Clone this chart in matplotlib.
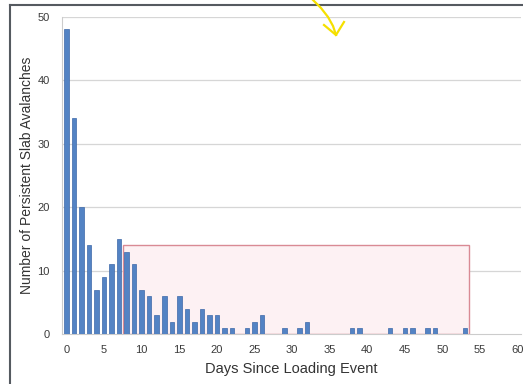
import matplotlib
matplotlib.use("Agg")
import matplotlib.pyplot as plt
from matplotlib.patches import Rectangle
from matplotlib.lines import Line2D

plt.rcParams["font.family"] = ["Liberation Sans", "DejaVu Sans"]

days = list(range(0, 61))
count_by_day = {0: 48, 1: 34, 2: 20, 3: 14, 4: 7, 5: 9, 6: 11, 7: 15, 8: 13, 9: 11,
                10: 7, 11: 6, 12: 3, 13: 6, 14: 2, 15: 6, 16: 4, 17: 2, 18: 4, 19: 3,
                20: 3, 21: 1, 22: 1, 24: 1, 25: 2, 26: 3, 29: 1, 31: 1, 32: 2,
                38: 1, 39: 1, 43: 1, 45: 1, 46: 1, 48: 1, 49: 1, 53: 1}
counts = [count_by_day.get(d, 0) for d in days]
x_ticks = list(range(0, 61, 5))
y_ticks = [0, 10, 20, 30, 40, 50]
window_start, window_end, window_height = 7.5, 53.6, 14

W, H = 523, 384
fig = plt.figure(figsize=(W / 100, H / 100), dpi=100)
fig.patch.set_facecolor("white")

ax = fig.add_axes([62 / W, (H - 334.3) / H, 459 / W, 317.6 / H])
ax.set_xlim(-0.6, 60.45)
ax.set_ylim(0, 50)

ax.add_patch(Rectangle((window_start, 0), window_end - window_start, window_height,
                       facecolor="#fdf1f3", edgecolor="#d98a94", linewidth=1.0, zorder=1))
for yv in y_ticks[1:]:
    ax.axhline(yv, color="#d6d6d6", linewidth=0.9, zorder=0.5)

ax.bar(days, counts, width=0.6, color="#5383c4", edgecolor="#3d68a8", linewidth=0.5, zorder=3)

ax.set_xticks(x_ticks)
ax.set_yticks(y_ticks)
ax.tick_params(axis="both", length=0, labelsize=8, colors="#3a3a3a", pad=8)
ax.tick_params(axis="y", pad=9)
for s in ["top", "right"]:
    ax.spines[s].set_visible(False)
ax.spines["left"].set_color("#cccccc")
ax.spines["bottom"].set_color("#cccccc")
ax.set_xlabel("Days Since Loading Event", fontsize=10.5, color="#333333", labelpad=5)
ax.set_ylabel("Number of Persistent Slab Avalanches", fontsize=10, color="#333333", labelpad=2)

def px(x, y):
    return (x / W, 1 - y / H)

# frame of the photographed chart
fig.add_artist(Line2D(*zip(px(10, 5), px(523, 5)), color="#555a60", linewidth=1.5))
fig.add_artist(Line2D(*zip(px(10, 5), px(10, 384)), color="#555a60", linewidth=1.5))

# yellow hand-drawn arrow
curve = [(313, 0), (321, 8), (328, 17), (333, 26), (336, 35)]
fig.add_artist(Line2D([px(*p)[0] for p in curve], [px(*p)[1] for p in curve],
                      color="#f5e000", linewidth=1.6))
head = [(324, 25), (336, 35), (344, 22)]
fig.add_artist(Line2D([px(*p)[0] for p in head], [px(*p)[1] for p in head],
                      color="#f5e000", linewidth=1.6))

fig.savefig("out.png", dpi=100)
